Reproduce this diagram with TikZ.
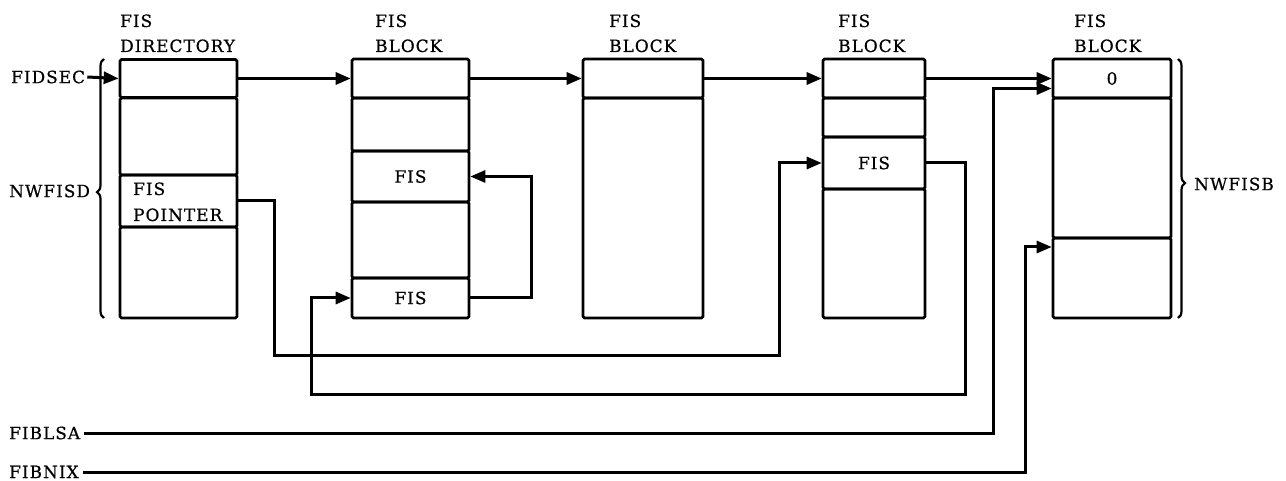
\documentclass[tikz,border=0pt]{standalone}
\usepackage{fontspec}
\setmainfont[LetterSpace=6,FakeBold=0.6]{DejaVu Serif}
\usetikzlibrary{arrows.meta,calc,decorations.pathreplacing}
\begin{document}
\begin{tikzpicture}[x=1pt,y=-1pt,
  cell/.style={draw,line width=2.6pt,rounded corners=1.5pt,inner sep=0pt,minimum width=#1},
  lbl/.style={inner sep=0pt,anchor=base west,font=\fontsize{16.9}{20}\selectfont},
  txt/.style={inner sep=0pt,font=\fontsize{16.9}{20}\selectfont},
  conn/.style={line width=3pt,-{Triangle[length=15pt,width=12pt]}},
  brc/.style={line width=2.2pt,decorate,decoration={brace,amplitude=7pt,raise=0pt}}]
\useasboundingbox (0,0) rectangle (1286,481);
% Box 1
\node[cell=117,minimum height=38] (b1a) at (178.5,78.5) {};
\node[cell=117,minimum height=77] (b1b) at (178.5,136.5) {};
\node[cell=117,minimum height=52] (b1c) at (178.5,201) {};
\node[cell=117,minimum height=91] (b1d) at (178.5,272.5) {};
% Box 2
\node[cell=117,minimum height=39] (b2a) at (410.5,78.5) {};
\node[cell=117,minimum height=53] (b2b) at (410.5,124.5) {};
\node[cell=117,minimum height=51] (b2c) at (410.5,176.5) {};
\node[cell=117,minimum height=76] (b2d) at (410.5,240) {};
\node[cell=117,minimum height=40] (b2e) at (410.5,298) {};
% Box 3
\node[cell=120,minimum height=39] (b3a) at (643,78.5) {};
\node[cell=120,minimum height=220] (b3b) at (643,208) {};
% Box 4
\node[cell=102,minimum height=39] (b4a) at (874,78.5) {};
\node[cell=102,minimum height=39] (b4b) at (874,117.5) {};
\node[cell=102,minimum height=52] (b4c) at (874,163) {};
\node[cell=102,minimum height=129] (b4d) at (874,253.5) {};
% Box 5
\node[cell=118,minimum height=39] (b5a) at (1112,78.5) {};
\node[cell=118,minimum height=140] (b5b) at (1112,168) {};
\node[cell=118,minimum height=80] (b5c) at (1112,278) {};
% Titles
\node[lbl] (t1a) at (120,27) {FIS};
\node[lbl] (t1b) at (120,52) {DIRECTORY};
\node[lbl] (t2a) at (375,27) {FIS};
\node[lbl] (t2b) at (375,52) {BLOCK};
\node[lbl] (t3a) at (609,27) {FIS};
\node[lbl] (t3b) at (609,52) {BLOCK};
\node[lbl] (t4a) at (838,27) {FIS};
\node[lbl] (t4b) at (838,52) {BLOCK};
\node[lbl] (t5a) at (1074,27) {FIS};
\node[lbl] (t5b) at (1074,52) {BLOCK};
% Cell texts
\node[lbl] (fp1) at (133,195) {FIS};
\node[lbl] (fp2) at (133,221) {POINTER};
\node[txt] (f2c) at (b2c) {FIS};
\node[txt] (f2e) at (b2e) {FIS};
\node[txt] (f4c) at (b4c) {FIS};
\node[txt] (z5a) at (b5a) {0};
% Side labels
\node[txt,anchor=west] (fidsec) at (11,77) {FIDSEC};
\node[txt,anchor=west] (nwfisd) at (9,191) {NWFISD};
\node[txt,anchor=west] (nwfisb) at (1194,184) {NWFISB};
\node[txt,anchor=west] (fiblsa) at (9,433) {FIBLSA};
\node[txt,anchor=west] (fibnix) at (9,472) {FIBNIX};
% Braces
\coordinate (lb1) at (104,318);
\coordinate (lb2) at (104,59);
\draw[brc,decoration={aspect=0.486}] (lb1) -- (lb2);
\coordinate (rb1) at (1178,59);
\coordinate (rb2) at (1178,318);
\draw[brc,decoration={aspect=0.479}] (rb1) -- (rb2);
% Chain arrows
\draw[conn] ([xshift=2pt]fidsec.east) -- (b1a.west);
\draw[conn] (b1a.east) -- (b2a.west);
\draw[conn] (b2a.east) -- (b3a.west);
\draw[conn] (b3a.east) -- (b4a.west);
\draw[conn] (b4a.east) -- (b4a.east -| b5a.west);
% FIS pointer path
\coordinate (c1) at (274,355);
\draw[conn] (b1c.east) -| (c1) -| ($(b4c.west)+(-42,0)$) -- (b4c.west);
% Box 2 loop
\draw[conn] (b2e.east) -| ($(b2c.east)+(61,0)$) -- (b2c.east);
% Box 4 FIS back to box 2
\coordinate (c2) at (965,394);
\draw[conn] (b4c.east) -| (c2) -| ($(b2e.west)+(-39,0)$) -- (b2e.west);
% FIBLSA
\draw[conn] ([xshift=4pt]fiblsa.east) -| ($(b5a.west)+(-58,10)$) -- ($(b5a.west)+(0,10)$);
% FIBNIX
\draw[conn] ([xshift=4pt]fibnix.east) -| ($(b5c.west)+(-26,-31)$) -- ($(b5c.west)+(0,-31)$);
\end{tikzpicture}
\end{document}
